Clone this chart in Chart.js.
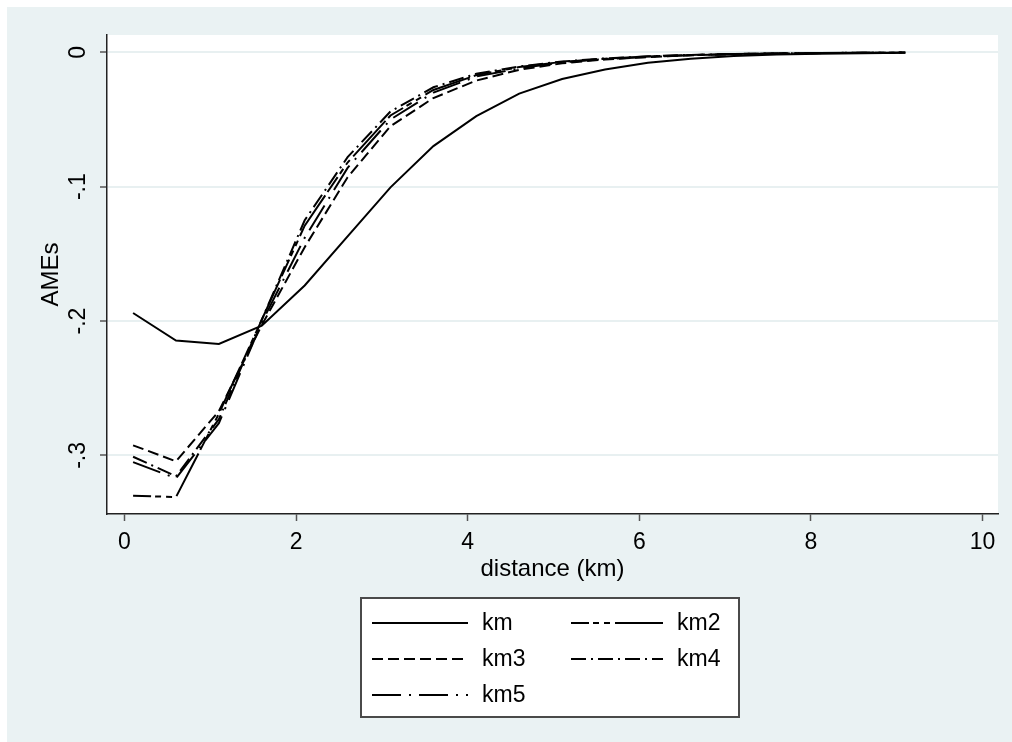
<!DOCTYPE html>
<html lang="en">

<head>
    <meta charset="UTF-8">
    <title>AMEs by distance</title>
    <script src="https://cdn.jsdelivr.net/npm/chart.js"></script>
    <style>
        body { margin: 0; background: #ffffff; }
        .janela { width: 1012px; height: 742px; position: relative; }
    </style>
</head>

<body>
    <div class="janela">
        <canvas id="grafico" width="1012" height="742"></canvas>
    </div>
</body>

<script>

    // distance (km) of each estimate
    var distancia = [0.1, 0.6, 1.1, 1.6, 2.1, 2.6, 3.1, 3.6, 4.1, 4.6, 5.1, 5.6, 6.1, 6.6, 7.1, 7.6, 8.1, 8.6, 9.1];

    var km  = [-0.194, -0.2145, -0.217, -0.2035, -0.1735, -0.137, -0.1005, -0.0698, -0.0475, -0.0307, -0.0198, -0.0128, -0.0078, -0.0047, -0.0028, -0.0017, -0.0010, -0.0006, -0.0003];
    var km2 = [-0.330, -0.331, -0.269, -0.199, -0.129, -0.082, -0.047, -0.028, -0.017, -0.011, -0.0071, -0.0047, -0.0031, -0.0020, -0.0013, -0.0008, -0.0005, -0.0003, -0.0002];
    var km3 = [-0.2925, -0.3044, -0.267, -0.203, -0.145, -0.093, -0.055, -0.034, -0.021, -0.013, -0.0082, -0.0053, -0.0035, -0.0022, -0.0014, -0.0009, -0.0006, -0.0004, -0.0002];
    var km4 = [-0.301, -0.3155, -0.273, -0.199, -0.125, -0.078, -0.044, -0.026, -0.016, -0.0105, -0.0068, -0.0045, -0.0030, -0.0019, -0.0012, -0.0008, -0.0005, -0.0003, -0.0002];
    var km5 = [-0.305, -0.317, -0.276, -0.201, -0.138, -0.086, -0.050, -0.030, -0.018, -0.012, -0.0075, -0.0050, -0.0033, -0.0021, -0.0013, -0.0008, -0.0005, -0.0003, -0.0002];

    var nomes = ['km', 'km2', 'km3', 'km4', 'km5'];
    var ticksX = [0, 2, 4, 6, 8, 10];
    var ticksY = [-0.3, -0.2, -0.1, 0];

    var tracos = [[], [18, 4, 6, 5, 6, 5, 48, 4], [11, 5], [15, 5, 2, 5], [29, 8, 2, 8]];
    var fonte = '"Liberation Sans", Arial, sans-serif';

    function serie(valores) {
        var pts = [];
        for (var i = 0; i < distancia.length; i++) {
            pts.push({ x: distancia[i], y: valores[i] });
        }
        return pts;
    }

    var todos = [km, km2, km3, km4, km5];
    var datasets = [];
    for (var i = 0; i < todos.length; i++) {
        datasets.push({
            label: nomes[i],
            data: serie(todos[i]),
            borderColor: '#000000',
            borderWidth: 2,
            borderDash: tracos[i],
            pointRadius: 0,
            tension: 0,
            fill: false
        });
    }

    // background + white plot region, Stata style
    var fundo = {
        id: 'fundo',
        beforeDraw: function (chart) {
            var ctx = chart.ctx;
            var a = chart.chartArea;
            ctx.save();
            ctx.fillStyle = '#ffffff';
            ctx.fillRect(0, 0, chart.width, chart.height);
            ctx.fillStyle = '#eaf2f3';
            ctx.fillRect(7, 7, chart.width - 7, chart.height - 7);
            ctx.fillStyle = '#ffffff';
            ctx.fillRect(a.left, a.top, a.right - a.left, a.bottom - a.top);
            ctx.restore();
        }
    };

    // legend box in two columns
    var legenda = {
        id: 'legenda',
        afterDraw: function (chart) {
            var ctx = chart.ctx;
            var caixa = { x: 361, y: 598, w: 378, h: 119 };
            var posicoes = [
                { x: 372, y: 623 }, { x: 571, y: 623 },
                { x: 372, y: 659 }, { x: 571, y: 659 },
                { x: 372, y: 695 }
            ];
            ctx.save();
            ctx.fillStyle = '#ffffff';
            ctx.fillRect(caixa.x, caixa.y, caixa.w, caixa.h);
            ctx.strokeStyle = '#4a4a4a';
            ctx.lineWidth = 2;
            ctx.strokeRect(caixa.x, caixa.y, caixa.w, caixa.h);

            chart.data.datasets.forEach(function (ds, i) {
                var p = posicoes[i];
                var comp = i % 2 == 0 ? 96 : 92;
                ctx.strokeStyle = '#000000';
                ctx.lineWidth = 2;
                ctx.setLineDash(ds.borderDash);
                ctx.beginPath();
                ctx.moveTo(p.x, p.y);
                ctx.lineTo(p.x + comp, p.y);
                ctx.stroke();
                ctx.setLineDash([]);
                ctx.fillStyle = '#000000';
                ctx.font = '23px ' + fonte;
                ctx.textBaseline = 'middle';
                ctx.textAlign = 'left';
                ctx.fillText(ds.label, p.x + comp + 14, p.y + 1);
            });
            ctx.restore();
        }
    };

    var ctx = document.getElementById('grafico').getContext('2d');
    var myChart = new Chart(ctx, {
        type: 'line',
        data: { datasets: datasets },
        plugins: [fundo, legenda],
        options: {
            responsive: false,
            animation: false,
            layout: {
                padding: { top: 35, right: 14, bottom: 0, left: 0 }
            },
            plugins: {
                legend: { display: false },
                tooltip: { enabled: false }
            },
            scales: {
                x: {
                    type: 'linear',
                    min: -0.204,
                    max: 10.18,
                    afterBuildTicks: function (scale) {
                        scale.ticks = ticksX.map(function (v) { return { value: v }; });
                    },
                    afterFit: function (scale) {
                        scale.height = 228;
                    },
                    ticks: {
                        color: '#000000',
                        padding: 8,
                        maxRotation: 0,
                        font: { family: fonte, size: 23 },
                        callback: function (v) { return String(v); }
                    },
                    grid: {
                        drawOnChartArea: false,
                        drawTicks: true,
                        tickLength: 7,
                        tickColor: '#555555',
                        tickWidth: 1.5
                    },
                    border: { display: true, color: '#222222', width: 1.5 },
                    title: {
                        display: true,
                        text: 'distance (km)',
                        color: '#000000',
                        font: { family: fonte, size: 24 },
                        padding: { top: 0, bottom: 158 }
                    }
                },
                y: {
                    min: -0.3436,
                    max: 0.0129,
                    afterBuildTicks: function (scale) {
                        scale.ticks = ticksY.map(function (v) { return { value: v }; });
                    },
                    afterFit: function (scale) {
                        scale.width = 107;
                    },
                    ticks: {
                        color: '#000000',
                        padding: 8,
                        minRotation: 90,
                        maxRotation: 90,
                        crossAlign: 'center',
                        font: { family: fonte, size: 23 },
                        callback: function (v) {
                            if (v == 0) return '0';
                            return (v < 0 ? '-' : '') + String(Math.abs(v)).replace(/^0/, '');
                        }
                    },
                    grid: {
                        color: '#e8f0f1',
                        lineWidth: 2,
                        drawTicks: true,
                        tickLength: 7,
                        tickColor: '#555555',
                        tickWidth: 1.5
                    },
                    border: { display: true, color: '#222222', width: 1.5 },
                    title: {
                        display: true,
                        text: 'AMEs',
                        color: '#000000',
                        font: { family: fonte, size: 24 },
                        padding: { top: 37, bottom: 0 }
                    }
                }
            }
        }
    });

</script>

</html>
